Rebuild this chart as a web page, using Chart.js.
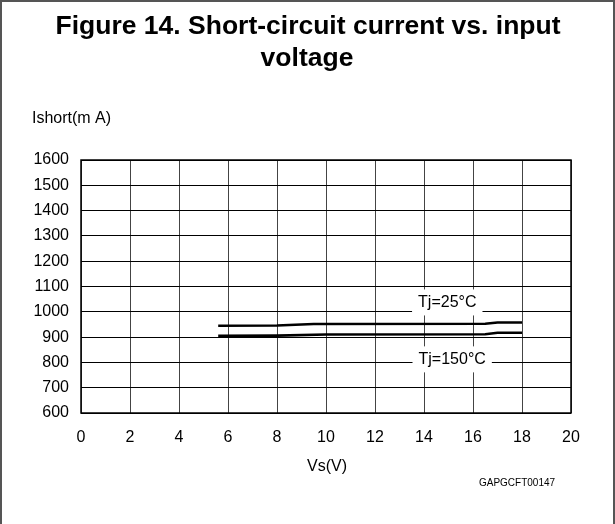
<!DOCTYPE html>
<html>
<head>
<meta charset="utf-8">
<script src="https://cdn.jsdelivr.net/npm/chart.js@4.4.1/dist/chart.umd.min.js"></script>
<style>
html, body { margin: 0; padding: 0; background: #fff; }
canvas { display: block; }
</style>
</head>
<body>
<canvas id="chart" width="615" height="524"></canvas>
<script>
// values
const vs25 = [5.6, 8, 9.5, 16.5, 17, 18];
const ishort25 = [945, 946, 952, 953, 958, 958];
const vs150 = [5.6, 8, 10, 16.5, 17, 18];
const ishort150 = [905, 906, 910, 911, 917, 917];
const seriesNames = ['Tj=25°C', 'Tj=150°C'];
// where the curve labels sit, in data units
const labelAt = [[14.95, 1037], [15.15, 812]];

const FONT = '"Liberation Sans", Arial, sans-serif';

function toPoints(xs, ys) {
    return xs.map((x, i) => ({ x: x, y: ys[i] }));
}

const decor = {
    id: 'decor',
    beforeDraw(chart) {
        const ctx = chart.ctx;
        ctx.save();
        ctx.fillStyle = '#fff';
        ctx.fillRect(0, 0, chart.width, chart.height);
        ctx.restore();
    },
    afterDatasetsDraw(chart) {
        const ctx = chart.ctx;
        const xs = chart.scales.x, ys = chart.scales.y;
        const a = chart.chartArea;
        ctx.save();
        // plot frame
        ctx.strokeStyle = '#000';
        ctx.lineWidth = 1.5;
        ctx.strokeRect(a.left, a.top, a.right - a.left, a.bottom - a.top);

        // curve labels on white boxes
        ctx.font = '16px ' + FONT;
        ctx.textAlign = 'center';
        ctx.textBaseline = 'middle';
        seriesNames.forEach((name, i) => {
            const px = xs.getPixelForValue(labelAt[i][0]);
            const py = ys.getPixelForValue(labelAt[i][1]);
            const w = ctx.measureText(name).width + 12;
            ctx.fillStyle = '#fff';
            ctx.fillRect(px - w / 2, py - 13, w, 26);
            ctx.fillStyle = '#000';
            ctx.fillText(name, px, py);
        });
        ctx.restore();
    },
    afterDraw(chart) {
        const ctx = chart.ctx;
        ctx.save();
        ctx.fillStyle = '#000';
        ctx.textAlign = 'center';
        ctx.textBaseline = 'alphabetic';
        ctx.font = 'bold 26.5px ' + FONT;
        ctx.fillText('Figure 14. Short-circuit current vs. input', 308, 34);
        ctx.fillText('voltage', 307, 66);

        ctx.textAlign = 'left';
        ctx.textBaseline = 'middle';
        ctx.font = '16px ' + FONT;
        ctx.fillText('Ishort(m A)', 32, 119);

        ctx.textAlign = 'center';
        ctx.fillText('Vs(V)', 327, 467);
        ctx.font = '10px ' + FONT;
        ctx.fillText('GAPGCFT00147', 517, 483);

        // outer frame of the figure (open at the bottom)
        ctx.strokeStyle = '#555';
        ctx.lineWidth = 2;
        ctx.beginPath();
        ctx.moveTo(1, chart.height);
        ctx.lineTo(1, 1);
        ctx.lineTo(chart.width - 1, 1);
        ctx.lineTo(chart.width - 1, chart.height);
        ctx.stroke();
        ctx.restore();
    }
};

new Chart(document.getElementById('chart'), {
    type: 'scatter',
    data: {
        datasets: [
            {
                label: seriesNames[0],
                data: toPoints(vs25, ishort25),
                showLine: true,
                borderColor: '#000',
                borderWidth: 2.6,
                pointRadius: 0,
                tension: 0
            },
            {
                label: seriesNames[1],
                data: toPoints(vs150, ishort150),
                showLine: true,
                borderColor: '#000',
                borderWidth: 2.6,
                pointRadius: 0,
                tension: 0
            }
        ]
    },
    options: {
        responsive: false,
        animation: false,
        devicePixelRatio: 1,
        layout: { padding: { top: 160, right: 44, bottom: 0, left: 0 } },
        plugins: {
            legend: { display: false },
            tooltip: { enabled: false },
            title: { display: false }
        },
        scales: {
            x: {
                type: 'linear',
                min: 0,
                max: 20,
                ticks: {
                    stepSize: 2, color: '#000', padding: 15,
                    font: { family: FONT, size: 16 },
                    callback: (v) => String(v)
                },
                grid: { color: '#444', lineWidth: 1, drawTicks: false },
                border: { display: false },
                afterFit(s) { s.height = 111; }
            },
            y: {
                type: 'linear',
                min: 600,
                max: 1600,
                ticks: {
                    stepSize: 100, color: '#000', padding: 12,
                    font: { family: FONT, size: 16 },
                    callback: (v) => String(v)
                },
                grid: { color: '#000', lineWidth: 1, drawTicks: false },
                border: { display: false },
                afterFit(s) { s.width = 81; }
            }
        }
    },
    plugins: [decor]
});
</script>
</body>
</html>
